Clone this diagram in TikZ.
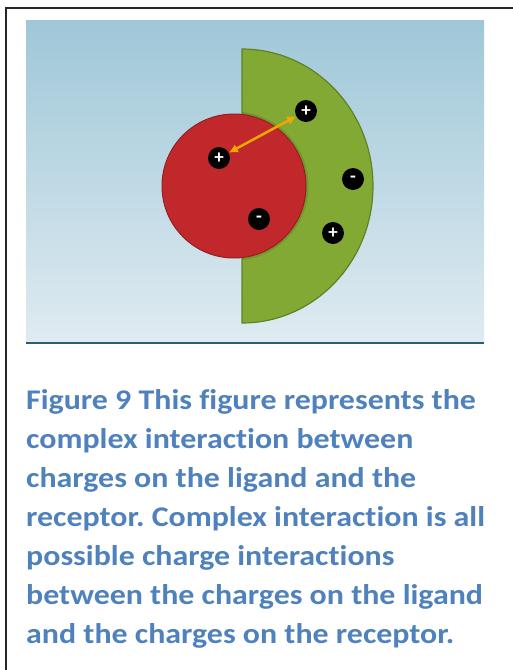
\documentclass[tikz,border=0pt]{standalone}
\usepackage{fontspec}
\setmainfont{Carlito}
\newfontfamily\capfont[FakeStretch=1.12,Ligatures=NoCommon]{Carlito}
\usetikzlibrary{arrows.meta}
\frenchspacing
\definecolor{skytop}{RGB}{159,199,216}
\definecolor{skybot}{RGB}{223,235,241}
\definecolor{panelline}{RGB}{45,95,115}
\definecolor{recgreen}{RGB}{130,169,52}
\definecolor{recedge}{RGB}{96,130,38}
\definecolor{ligred}{RGB}{192,40,44}
\definecolor{ligedge}{RGB}{150,32,34}
\definecolor{arrorange}{RGB}{240,168,0}
\definecolor{capblue}{RGB}{79,129,189}
\tikzset{
  charge/.style={circle,fill=black,minimum size=22pt,inner sep=0pt,
    text=white,font=\bfseries\fontsize{19}{19}\selectfont},
  capline/.style={anchor=base west,inner sep=0pt,text=capblue,
    font=\capfont\bfseries\fontsize{28.5}{28.5}\selectfont}
}

\begin{document}
\begin{tikzpicture}[x=1pt,y=-1pt]
  \useasboundingbox (0,0) rectangle (513,670);
  % Frame
  \draw[line width=2pt,black!85] (6,670) -- (6,8) -- (513,8);
  % Background panel
  \shade[top color=skytop,bottom color=skybot] (26,20) rectangle (484,343);
  \draw[line width=1.5pt,panelline] (26,343) -- (484,343);
  % Receptor
  \draw[fill=recgreen,draw=recedge,line width=1.2pt]
    (242,323) arc[start angle=90,end angle=-90,x radius=131,y radius=137] -- cycle;
  \begin{scope}
    \clip (242,49) rectangle (380,323);
    \fill[recedge,opacity=0.45] (234,186) circle (74.5);
  \end{scope}
  % Ligand
  \draw[fill=ligred,draw=ligedge,line width=1pt] (234,186) circle (72);
  % Charges
  \node[charge] (rp1) at (306,111) {+};
  \node[charge] (lp1) at (219,158) {+};
  \node[charge] (rm1) at (353,179) {-};
  \node[charge] (lm1) at (259,219) {-};
  \node[charge] (rp2) at (333,233) {+};
  % Arrow
  \draw[{Latex[length=9pt,width=9pt]}-{Latex[length=9pt,width=9pt]},
    line width=2.5pt,arrorange] (lp1) -- (rp1);
  % Caption
  \node[capline] (c1) at (26,409) {Figure 9 This figure represents the};
  \node[capline] (c2) at (26,448) {complex interaction between};
  \node[capline] (c3) at (26,487) {charges on the ligand and the};
  \node[capline] (c4) at (26,526) {receptor. Complex interaction is all};
  \node[capline] (c5) at (26,565) {possible charge interactions};
  \node[capline] (c6) at (26,604) {between the charges on the ligand};
  \node[capline] (c7) at (26,643) {and the charges on the receptor.};
\end{tikzpicture}
\end{document}
